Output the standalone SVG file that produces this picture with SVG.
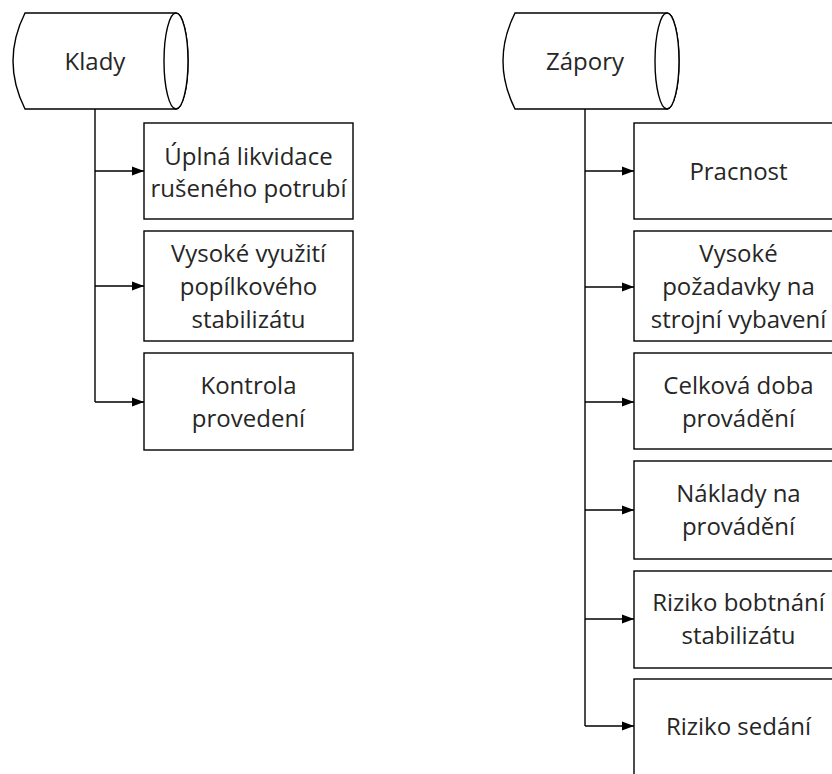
<svg xmlns="http://www.w3.org/2000/svg" width="832" height="774" viewBox="0 0 832 774">
<defs>
<marker id="arr" viewBox="0 0 12 10" refX="12" refY="5" markerWidth="12" markerHeight="10" markerUnits="userSpaceOnUse" orient="auto">
<path d="M0,0.5 L12,5 L0,9.5 Z" fill="#000"/>
</marker>
</defs>
<style>
.shape{fill:#fff;stroke:#000;stroke-width:1.4}
.conn{fill:none;stroke:#000;stroke-width:1.4}
text{font-family:"Open Sans","Liberation Sans",sans-serif;font-size:24px;fill:#262626;text-anchor:middle}
</style>
<rect width="832" height="774" fill="#fff"/>
<g id="connectors">
<path class="conn" d="M95,109 V402"/>
<path class="conn" d="M95,171 H144" marker-end="url(#arr)"/>
<path class="conn" d="M95,286 H144" marker-end="url(#arr)"/>
<path class="conn" d="M95,402 H144" marker-end="url(#arr)"/>
<path class="conn" d="M585,109 V726"/>
<path class="conn" d="M585,171 H634" marker-end="url(#arr)"/>
<path class="conn" d="M585,287 H634" marker-end="url(#arr)"/>
<path class="conn" d="M585,402 H634" marker-end="url(#arr)"/>
<path class="conn" d="M585,510 H634" marker-end="url(#arr)"/>
<path class="conn" d="M585,619 H634" marker-end="url(#arr)"/>
<path class="conn" d="M585,726 H634" marker-end="url(#arr)"/>
</g>
<g id="klady">
<path class="shape" d="M25,13 H176 A12,48 0 0 1 176,109 H25 Q1,61 25,13 Z"/>
<ellipse class="shape" cx="176" cy="61" rx="12" ry="48"/>
<text x="95" y="70">Klady</text>
</g>
<g id="zapory">
<path class="shape" d="M515,13 H667 A12,48 0 0 1 667,109 H515 Q491,61 515,13 Z"/>
<ellipse class="shape" cx="667" cy="61" rx="12" ry="48"/>
<text x="585" y="70">Zápory</text>
</g>
<g id="k1">
<rect class="shape" x="144" y="123" width="209" height="96"/>
<text x="248.5" y="165">Úplná likvidace</text>
<text x="248.5" y="197">rušeného potrubí</text>
</g>
<g id="k2">
<rect class="shape" x="144" y="231" width="209" height="110"/>
<text x="248.5" y="262">Vysoké využití</text>
<text x="248.5" y="295">popílkového</text>
<text x="248.5" y="328">stabilizátu</text>
</g>
<g id="k3">
<rect class="shape" x="144" y="353" width="209" height="97"/>
<text x="248.5" y="394">Kontrola</text>
<text x="248.5" y="427">provedení</text>
</g>
<g id="z1">
<rect class="shape" x="634" y="123" width="209" height="96"/>
<text x="738.5" y="180">Pracnost</text>
</g>
<g id="z2">
<rect class="shape" x="634" y="231" width="209" height="110"/>
<text x="738.5" y="262">Vysoké</text>
<text x="738.5" y="295">požadavky na</text>
<text x="738.5" y="328">strojní vybavení</text>
</g>
<g id="z3">
<rect class="shape" x="634" y="353" width="209" height="96"/>
<text x="738.5" y="394">Celková doba</text>
<text x="738.5" y="427">provádění</text>
</g>
<g id="z4">
<rect class="shape" x="634" y="461" width="209" height="98"/>
<text x="738.5" y="502">Náklady na</text>
<text x="738.5" y="535">provádění</text>
</g>
<g id="z5">
<rect class="shape" x="634" y="571" width="209" height="97"/>
<text x="738.5" y="611">Riziko bobtnání</text>
<text x="738.5" y="644">stabilizátu</text>
</g>
<g id="z6">
<rect class="shape" x="634" y="679" width="209" height="110"/>
<text x="738.5" y="735">Riziko sedání</text>
</g>
</svg>
